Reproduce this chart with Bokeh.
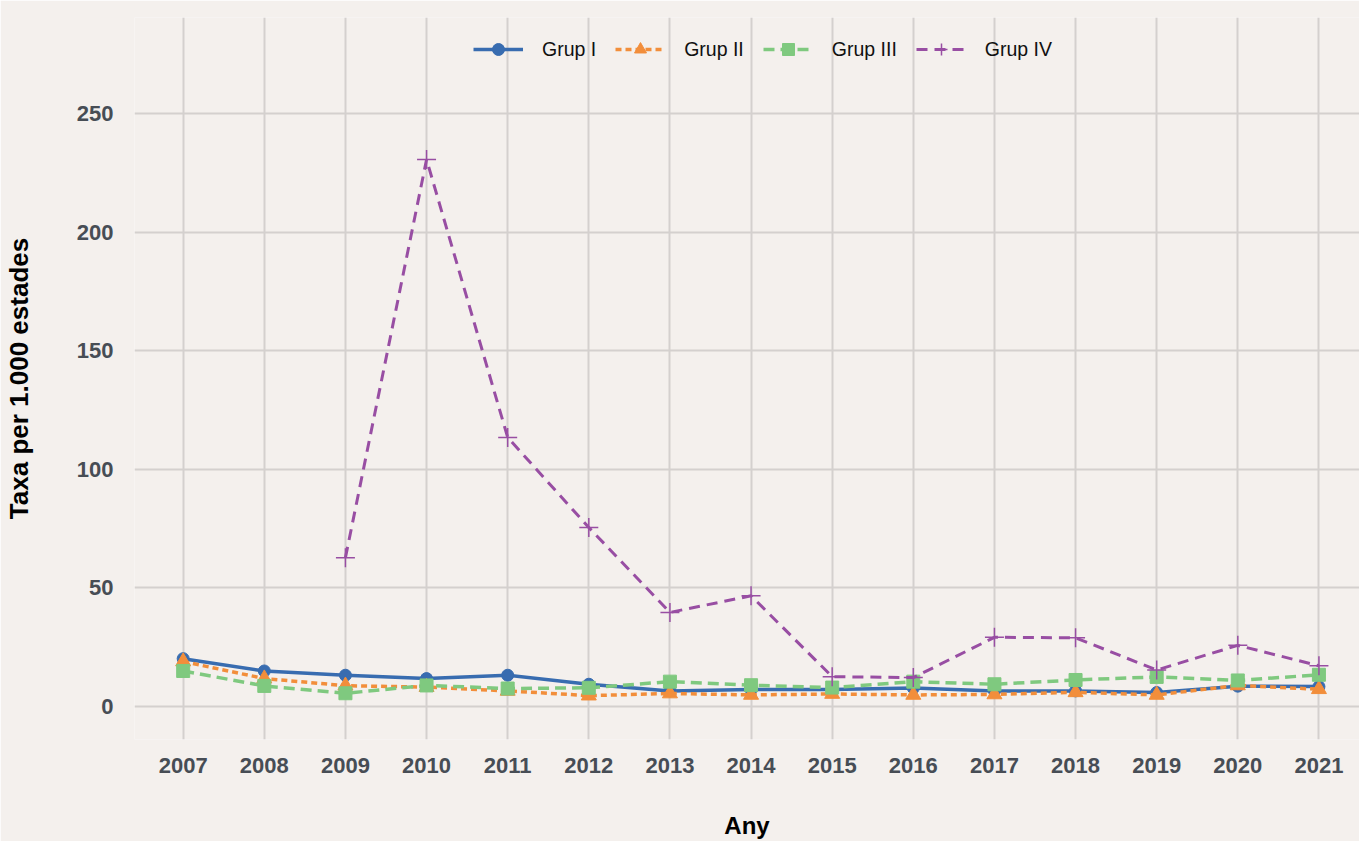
from bokeh.plotting import figure
from bokeh.models import Range1d, FixedTicker, Legend
from bokeh.embed import file_html
from bokeh.resources import INLINE

years = [2007, 2008, 2009, 2010, 2011, 2012, 2013, 2014, 2015, 2016, 2017, 2018, 2019, 2020, 2021]
grup1 = [20.2, 15.0, 13.2, 11.8, 13.2, 9.4, 6.6, 7.2, 7.2, 7.8, 6.6, 6.6, 5.9, 8.6, 8.4]
grup2 = [19.0, 11.8, 8.8, 8.2, 6.6, 4.6, 5.5, 4.9, 5.3, 4.9, 5.1, 6.0, 4.9, 8.9, 7.3]
grup3 = [15.0, 8.7, 5.6, 8.9, 7.6, 7.9, 10.5, 9.0, 8.0, 10.5, 9.4, 11.2, 12.5, 11.0, 13.4]
years4 = [2009, 2010, 2011, 2012, 2013, 2014, 2015, 2016, 2017, 2018, 2019, 2020, 2021]
grup4 = [62.8, 230.7, 113.5, 75.5, 39.7, 46.7, 12.6, 12.2, 29.2, 29.0, 15.4, 25.8, 17.2]
y_ticks = [0, 50, 100, 150, 200, 250]
labels = ["Grup I", "Grup II", "Grup III", "Grup IV"]

BG = "#f4f0ed"
FONT = "Liberation Sans"

p = figure(width=1359, height=841, output_backend="svg", toolbar_location=None,
           x_range=Range1d(2006.4, 2021.5), y_range=Range1d(-13.9, 290.6),
           min_border_left=127, min_border_right=0, min_border_top=17, min_border_bottom=99)
p.background_fill_color = BG
p.border_fill_color = BG
p.outline_line_color = None

blue, orange, green, purple = "#386cb0", "#f28e3b", "#7fc97f", "#984ea3"

r1 = p.line(years, grup1, line_color=blue, line_width=3.5)
s1 = p.scatter(years, grup1, marker="circle", size=12, color=blue)
r2 = p.line(years, grup2, line_color=orange, line_width=3.5, line_dash="6 4")
s2 = p.scatter(years, grup2, marker="triangle", size=15, color=orange)
r3 = p.line(years, grup3, line_color=green, line_width=3.5, line_dash="11 6")
s3 = p.scatter(years, grup3, marker="square", size=13, color=green)
r4 = p.line(years4, grup4, line_color=purple, line_width=3, line_dash="11 7")
s4 = p.scatter(years4, grup4, marker="cross", size=19, line_color=purple, line_width=1.5)

legend = Legend(items=[(labels[0], [r1, s1]), (labels[1], [r2, s2]),
                       (labels[2], [r3, s3]), (labels[3], [r4, s4])],
                orientation="horizontal", location=(329, 665))
legend.background_fill_alpha = 0
legend.border_line_alpha = 0
legend.glyph_width = 50
legend.glyph_height = 30
legend.label_standoff = 19
legend.spacing = 19
legend.padding = 10
legend.label_text_font = FONT
legend.label_text_font_size = "19.5px"
legend.label_text_color = "#111111"
p.add_layout(legend, "center")

for ax in (p.xaxis, p.yaxis):
    ax.axis_line_color = None
    ax.major_tick_line_color = None
    ax.minor_tick_line_color = None
    ax.major_label_text_font = FONT
    ax.major_label_text_font_style = "bold"
    ax.major_label_text_font_size = "22px"
    ax.major_label_text_color = "#474d55"
    ax.axis_label_text_font = FONT
    ax.axis_label_text_font_style = "bold"
    ax.axis_label_text_color = "#000000"

p.xaxis.axis_label_text_font_size = "24px"
p.yaxis.axis_label_text_font_size = "26px"
p.xaxis.ticker = FixedTicker(ticks=years)
p.yaxis.ticker = FixedTicker(ticks=y_ticks)
p.xaxis.axis_label = "Any"
p.yaxis.axis_label = "Taxa per 1.000 estades"
p.xaxis.major_label_standoff = 12
p.yaxis.major_label_standoff = 15
p.xaxis.axis_label_standoff = 36
p.yaxis.axis_label_standoff = 40

for g in (p.xgrid, p.ygrid):
    g.grid_line_color = "#d4d0ce"
    g.grid_line_width = 2
    g.minor_grid_line_color = None

open("out.html", "w").write(file_html(p, INLINE))
